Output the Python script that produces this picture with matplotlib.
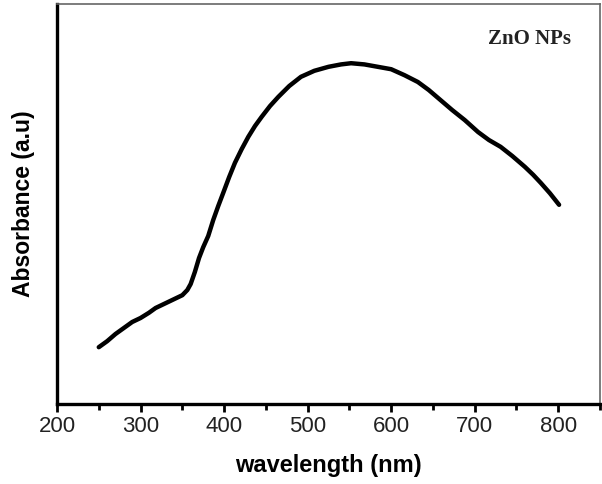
import matplotlib.pyplot as plt
from matplotlib.ticker import MultipleLocator

# values (absorbance in arbitrary units)
wavelength = [250, 260, 270, 280, 290, 300, 310, 318, 328, 340, 350, 356, 360, 365,
              370, 375, 381, 387, 393, 399, 406, 413, 421, 429, 437, 445, 455, 465,
              478, 492, 508, 525, 540, 552, 568, 584, 600, 616, 632, 645, 659, 673,
              688, 704, 717, 731, 745, 760, 770, 779, 790, 801]
absorbance = [0.142, 0.157, 0.175, 0.19, 0.205, 0.215, 0.228, 0.24, 0.25, 0.262,
              0.272, 0.285, 0.3, 0.33, 0.365, 0.392, 0.42, 0.46, 0.495, 0.528,
              0.567, 0.603, 0.637, 0.668, 0.695, 0.718, 0.745, 0.768, 0.795, 0.818,
              0.833, 0.843, 0.849, 0.852, 0.849, 0.843, 0.837, 0.822, 0.805, 0.785,
              0.76, 0.735, 0.71, 0.68, 0.66, 0.643, 0.62, 0.593, 0.573, 0.553,
              0.527, 0.498]

fig = plt.figure(figsize=(6.02, 4.84), dpi=100)
ax = fig.add_axes([0.0947, 0.1653, 0.902, 0.8264])

ax.plot(wavelength, absorbance, color='black', lw=3.2, solid_capstyle='round',
        solid_joinstyle='round')

ax.set_xlim(200, 850)
ax.set_ylim(0, 1)
ax.xaxis.set_major_locator(MultipleLocator(100))
ax.xaxis.set_minor_locator(MultipleLocator(50))
ax.set_yticks([])

for s in ['left', 'bottom']:
    ax.spines[s].set_linewidth(2.4)
    ax.spines[s].set_color('black')
for s in ['top', 'right']:
    ax.spines[s].set_linewidth(1.2)
    ax.spines[s].set_color('#666666')

ax.tick_params(axis='x', which='major', direction='out', length=6, width=2,
               labelsize=16, labelcolor='#222222', pad=3)
ax.tick_params(axis='x', which='minor', direction='out', length=4, width=2)
for t in ax.get_xticklabels():
    t.set_family('Liberation Sans')

ax.set_xlabel('wavelength (nm)', fontsize=17, fontweight='bold',
              family='Liberation Sans', labelpad=12)
ax.set_ylabel('Absorbance (a.u)', fontsize=16.5, fontweight='bold',
              family='Liberation Sans', labelpad=16)

ax.text(0.871, 0.913, 'ZnO NPs', transform=ax.transAxes, fontsize=15,
        fontweight='bold', family='Liberation Serif', color='#222222',
        ha='center', va='center')

fig.savefig('out.png', dpi=100)
